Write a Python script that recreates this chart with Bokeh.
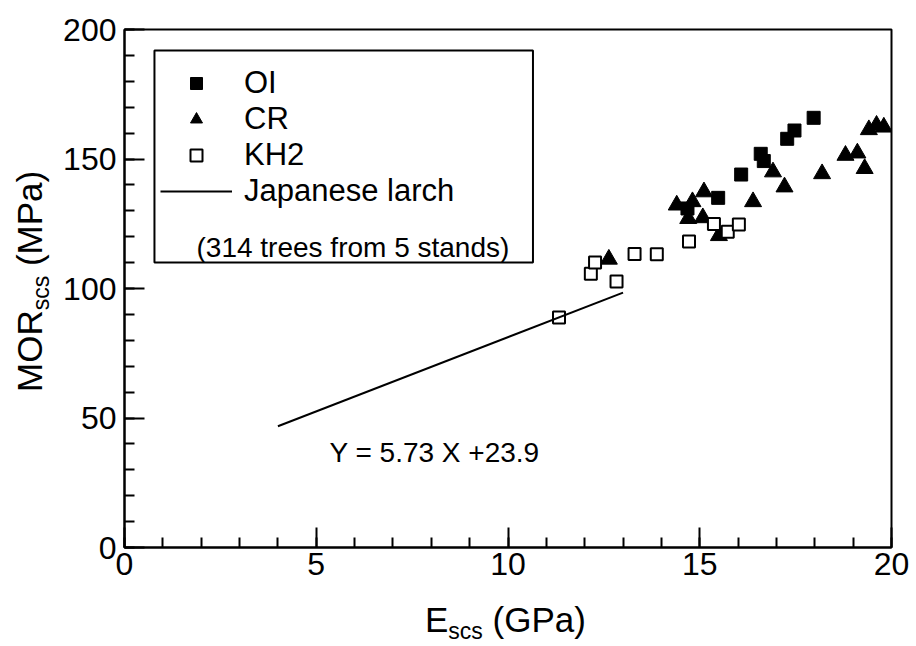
import math
from bokeh.plotting import figure
from bokeh.layouts import row, column
from bokeh.models import (Range1d, SingleIntervalTicker, Legend, LegendItem,
                          Label, BoxAnnotation, Div)
from bokeh.embed import file_html
from bokeh.resources import INLINE

# ---- data ----
oi_x = [17.97, 17.47, 17.28, 16.59, 16.67, 16.08, 15.48, 14.68]
oi_y = [165.9, 161.0, 157.8, 152.0, 149.2, 144.0, 135.0, 130.9]

cr_x = [12.63, 14.40, 14.81, 15.11, 14.70, 15.08, 15.50, 16.39, 16.91,
        17.21, 18.19, 18.80, 19.11, 19.30, 19.41, 19.61, 19.80]
cr_y = [111.3, 132.2, 133.5, 137.3, 127.0, 127.3, 120.4, 133.5, 145.0,
        139.2, 144.3, 151.4, 152.3, 146.3, 161.3, 163.0, 162.3]

kh2_x = [11.33, 12.16, 12.27, 12.83, 13.30, 13.88, 14.72, 15.37, 15.73, 16.02]
kh2_y = [88.8, 105.7, 110.0, 102.7, 113.3, 113.2, 118.1, 124.9, 121.9, 124.7]

larch_x = [4.0, 13.0]
larch_y = [46.8, 98.4]

series_labels = ["OI", "CR", "KH2", "Japanese larch"]
note_text = "(314 trees from 5 stands)"
equation_text = "Y = 5.73 X +23.9"
x_title = ("E", "scs", " (GPa)")
y_title = ("MOR", "scs", " (MPa)")

FONT = "Liberation Sans"

# ---- layout geometry (pixels in the 916x646 window) ----
W, H = 916, 646
YDIV_W = 60          # strip at the left for the y title
XDIV_H = 50          # strip at the bottom for the x title
FL, FR, FT, FB = 123, 891, 29, 547   # frame edges (absolute pixels)

p = figure(width=W - YDIV_W, height=H - XDIV_H, output_backend="svg",
           toolbar_location=None,
           x_range=Range1d(0, 20), y_range=Range1d(0, 200),
           min_border_left=FL - YDIV_W, min_border_right=W - FR,
           min_border_top=FT, min_border_bottom=(H - XDIV_H) - FB)
p.background_fill_color = "white"
p.border_fill_color = "white"
p.outline_line_color = "black"
p.outline_line_width = 2
p.xgrid.visible = False
p.ygrid.visible = False


def px2x(px):
    return (px - FL) / (FR - FL) * 20.0


def px2y(py):
    return (FB - py) / (FB - FT) * 200.0


for ax, interval, standoff in ((p.xaxis, 5, 5), (p.yaxis, 50, 8)):
    ax.ticker = SingleIntervalTicker(interval=interval, num_minor_ticks=5)
    ax.axis_line_width = 2
    ax.major_tick_line_width = 2
    ax.minor_tick_line_width = 2
    ax.major_tick_in = 20
    ax.major_tick_out = 0
    ax.minor_tick_in = 10
    ax.minor_tick_out = 0
    ax.major_label_text_font = FONT
    ax.major_label_text_font_size = "32px"
    ax.major_label_text_color = "black"
    ax.major_label_standoff = standoff
    ax.axis_label = None

# ---- data marks ----
r_oi = p.scatter(oi_x, oi_y, marker="square", size=13,
                 fill_color="black", line_color="black")
r_cr = p.scatter(cr_x, cr_y, marker="triangle", size=17,
                 fill_color="black", line_color="black")
r_kh = p.scatter(kh2_x, kh2_y, marker="square", size=12,
                 fill_color="white", line_color="black", line_width=2)
r_ln = p.line(larch_x, larch_y, line_color="black", line_width=2)

# ---- legend ----
legend = Legend(items=[LegendItem(label=series_labels[0], renderers=[r_oi]),
                       LegendItem(label=series_labels[1], renderers=[r_cr]),
                       LegendItem(label=series_labels[2], renderers=[r_kh]),
                       LegendItem(label=series_labels[3], renderers=[r_ln])],
                location="top_left")
legend.margin = 28
legend.padding = 8
legend.spacing = 0
legend.glyph_width = 72
legend.glyph_height = 30
legend.label_standoff = 12
legend.label_text_font = FONT
legend.label_text_font_size = "31px"
legend.label_text_color = "black"
legend.border_line_alpha = 0
legend.background_fill_alpha = 0
p.add_layout(legend)

p.add_layout(BoxAnnotation(left=px2x(153), right=px2x(532),
                           top=px2y(50), bottom=px2y(262),
                           fill_alpha=0, line_color="black", line_width=2,
                           line_alpha=1))


def screen_label(px, py, text, size):
    """Text placed in screen pixels measured from the frame's bottom-left."""
    return Label(x=px - FL, y=FB - py, x_units="screen", y_units="screen",
                 text=text, text_font=FONT,
                 text_font_size=f"{size}px", text_color="black",
                 text_baseline="alphabetic", text_align="left")


p.add_layout(screen_label(195, 247, note_text, 28))
p.add_layout(screen_label(328, 452, equation_text, 28))

# ---- axis titles with subscripts (HTML text around the plot) ----
AX, SUB, SHIFT = 35, 23, 7
font_css = (f"font-family:'{FONT}'; font-size:{AX}px; line-height:{AX}px; "
            "color:black; white-space:nowrap;")
sub_css = f"font-size:{SUB}px; position:relative; top:{SHIFT}px;"

x_html = (f"<div style=\"padding-left:{425 - YDIV_W}px; padding-top:6px; {font_css}\">"
          f"{x_title[0]}<span style=\"{sub_css}\">{x_title[1]}</span>{x_title[2]}</div>")
y_html = (f"<div style=\"padding-left:12px; padding-top:392px;\">"
          f"<div style=\"display:inline-block; transform-origin:0 0; "
          f"transform:rotate(-90deg); {font_css}\">"
          f"{y_title[0]}<span style=\"{sub_css}\">{y_title[1]}</span>{y_title[2]}"
          f"</div></div>")

xdiv = Div(text=x_html, width=W - YDIV_W, height=XDIV_H, margin=0)
ydiv = Div(text=y_html, width=YDIV_W, height=H, margin=0)

layout = row(ydiv, column(p, xdiv, spacing=0), spacing=0)

open("out.html", "w").write(file_html(layout, INLINE))
